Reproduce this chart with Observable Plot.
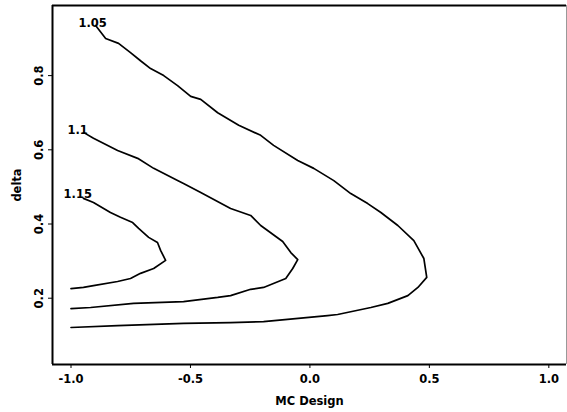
<!DOCTYPE html>
<html>
<head>
<meta charset="utf-8">
<script src="https://cdn.jsdelivr.net/npm/d3@7"></script>
<script src="https://cdn.jsdelivr.net/npm/@observablehq/plot@0.6"></script>
<style>
  html, body { margin: 0; padding: 0; background: #fff; }
  #chart svg { display: block; }
</style>
</head>
<body>
<div id="chart"></div>
<script>
// Contour levels and their labels
const levels = ["1.05", "1.1", "1.15"];

// Contour 1.05 (outer), [MC Design, delta]
const contour105 = [
  [-0.897, 0.935], [-0.855, 0.900], [-0.801, 0.887], [-0.751, 0.862], [-0.709, 0.840],
  [-0.667, 0.819], [-0.612, 0.800], [-0.554, 0.773], [-0.499, 0.744], [-0.457, 0.736],
  [-0.386, 0.700], [-0.298, 0.666], [-0.206, 0.639], [-0.152, 0.612], [-0.051, 0.571],
  [0.016, 0.550], [0.100, 0.517], [0.171, 0.482], [0.242, 0.455], [0.297, 0.431],
  [0.368, 0.396], [0.435, 0.355], [0.477, 0.307], [0.489, 0.256], [0.452, 0.229],
  [0.410, 0.207], [0.326, 0.186], [0.255, 0.175], [0.116, 0.156], [0.074, 0.153],
  [-0.194, 0.137], [-0.332, 0.134], [-0.529, 0.132], [-0.805, 0.126], [-1.0, 0.121]
];

// Contour 1.1 (middle)
const contour110 = [
  [-0.948, 0.647], [-0.906, 0.631], [-0.805, 0.598], [-0.721, 0.577], [-0.654, 0.550],
  [-0.554, 0.517], [-0.529, 0.509], [-0.457, 0.485], [-0.332, 0.442], [-0.248, 0.423],
  [-0.206, 0.396], [-0.114, 0.353], [-0.080, 0.323], [-0.051, 0.304], [-0.072, 0.280],
  [-0.101, 0.253], [-0.194, 0.229], [-0.248, 0.224], [-0.332, 0.207], [-0.386, 0.202],
  [-0.529, 0.191], [-0.738, 0.186], [-0.918, 0.175], [-1.0, 0.172]
];

// Contour 1.15 (inner)
const contour115 = [
  [-0.948, 0.469], [-0.906, 0.458], [-0.835, 0.431], [-0.793, 0.418], [-0.742, 0.404],
  [-0.717, 0.388], [-0.675, 0.364], [-0.638, 0.350], [-0.625, 0.329], [-0.604, 0.302],
  [-0.654, 0.280], [-0.709, 0.267], [-0.751, 0.253], [-0.805, 0.245], [-0.906, 0.234],
  [-0.948, 0.229], [-1.0, 0.226]
];

// Label anchor positions (start of text) for each contour level
const labelX = [-0.969, -1.015, -1.031];
const labelY = [0.940, 0.652, 0.479];

const xTicks = [-1.0, -0.5, 0.0, 0.5, 1.0];
const yTicks = [0.2, 0.4, 0.6, 0.8];
const xDomain = [-1.0775, 1.074];
const yDomain = [0.0213, 0.989];

const fmt = d => d.toFixed(1);

const lines = [contour105, contour110, contour115].flatMap((pts, i) =>
  pts.map(([x, y]) => ({level: levels[i], x, y}))
);
const labels = levels.map((t, i) => ({text: t, x: labelX[i], y: labelY[i]}));

const chart = Plot.plot({
  width: 567,
  height: 412,
  marginLeft: 52,
  marginRight: 1,
  marginTop: 5,
  marginBottom: 48,
  style: {fontFamily: "'DejaVu Sans', sans-serif", fontSize: "11.5px", fontWeight: "bold", color: "#000", background: "#fff"},
  x: {domain: xDomain},
  y: {domain: yDomain},
  marks: [
    Plot.axisX({ticks: xTicks, tickFormat: fmt, tickSize: 4, tickPadding: 6,
      label: "MC Design", labelAnchor: "center", labelArrow: "none", labelOffset: 40, fontSize: 11.5}),
    Plot.axisY({ticks: yTicks, tickFormat: fmt, tickSize: 4, tickPadding: 6, tickRotate: -90,
      label: "delta", labelAnchor: "center", labelArrow: "none", labelOffset: 40, fontSize: 11.5}),
    Plot.ruleX([xDomain[0]], {stroke: "#000", strokeWidth: 2}),
    Plot.ruleX([xDomain[1]], {stroke: "#999", strokeWidth: 1}),
    Plot.ruleY([yDomain[0]], {stroke: "#000", strokeWidth: 2}),
    Plot.ruleY([yDomain[1]], {stroke: "#000", strokeWidth: 2}),
    Plot.line(lines, {x: "x", y: "y", z: "level", stroke: "#000", strokeWidth: 1.7, curve: "linear"}),
    Plot.text(labels, {x: "x", y: "y", text: "text", textAnchor: "start", fontSize: 11.5, fontWeight: "bold", fill: "#000"})
  ]
});
document.getElementById("chart").appendChild(chart);
</script>
</body>
</html>
